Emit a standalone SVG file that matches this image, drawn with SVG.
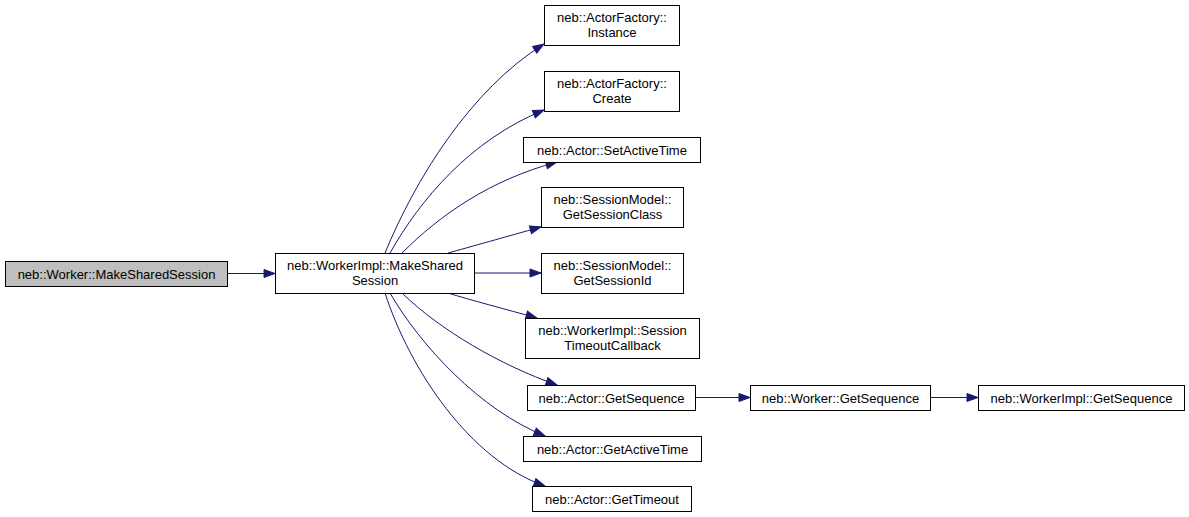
<svg xmlns="http://www.w3.org/2000/svg" width="1189" height="517" viewBox="0 0 1189 517">
<style>
.box{fill:#ffffff;stroke:#000000;stroke-width:1}
.root{fill:#bfbfbf;stroke:#000000;stroke-width:1}
.lbl{font-family:"Liberation Sans",Arial,Helvetica,sans-serif;font-size:13px;fill:#000000;text-anchor:middle}
.edge{fill:none;stroke:#191970;stroke-width:1}
</style>
<defs>
<marker id="arr" markerUnits="userSpaceOnUse" markerWidth="13" markerHeight="11" refX="12" refY="5" orient="auto">
<path d="M1,1 L12,5 L1,9 Z" fill="#191970" stroke="#191970" stroke-width="1"/>
</marker>
</defs>
<rect width="1189" height="517" fill="#ffffff"/>
<g id="connectors">
<path class="edge" marker-end="url(#arr)" d="M227,273.5 L275,273.5"/>
<path class="edge" marker-end="url(#arr)" d="M385,253 C415,180 470,90 544,44"/>
<path class="edge" marker-end="url(#arr)" d="M390,253 C420,200 470,140 544,110"/>
<path class="edge" marker-end="url(#arr)" d="M402,253 C440,215 490,180 557,162"/>
<path class="edge" marker-end="url(#arr)" d="M448,253 C470,247 505,237 541,227"/>
<path class="edge" marker-end="url(#arr)" d="M474,273 L541,273"/>
<path class="edge" marker-end="url(#arr)" d="M448,293 C470,300 505,309 537,318"/>
<path class="edge" marker-end="url(#arr)" d="M402,293 C440,330 500,365 557,385"/>
<path class="edge" marker-end="url(#arr)" d="M390,293 C420,345 480,410 545,436"/>
<path class="edge" marker-end="url(#arr)" d="M385,293 C410,370 470,460 545,486"/>
<path class="edge" marker-end="url(#arr)" d="M695,397.5 L750,397.5"/>
<path class="edge" marker-end="url(#arr)" d="M930,397.5 L978,397.5"/>
</g>
<g id="node1">
<rect class="root" x="5.5" y="261.5" width="222" height="25"/>
<text class="lbl" x="116.5" y="278.5">neb::Worker::MakeSharedSession</text>
</g>
<g id="node2">
<rect class="box" x="275.5" y="253.5" width="199" height="40"/>
<text class="lbl" x="375" y="269.5">neb::WorkerImpl::MakeShared</text>
<text class="lbl" x="375" y="284.5">Session</text>
</g>
<g id="node3">
<rect class="box" x="544.5" y="5.5" width="135" height="40"/>
<text class="lbl" x="612" y="21.5">neb::ActorFactory::</text>
<text class="lbl" x="612" y="36.5">Instance</text>
</g>
<g id="node4">
<rect class="box" x="544.5" y="71.5" width="135" height="40"/>
<text class="lbl" x="612" y="87.5">neb::ActorFactory::</text>
<text class="lbl" x="612" y="102.5">Create</text>
</g>
<g id="node5">
<rect class="box" x="523.5" y="137.5" width="177" height="25"/>
<text class="lbl" x="612" y="154.5">neb::Actor::SetActiveTime</text>
</g>
<g id="node6">
<rect class="box" x="541.5" y="187.5" width="142" height="40"/>
<text class="lbl" x="612.5" y="203.5">neb::SessionModel::</text>
<text class="lbl" x="612.5" y="218.5">GetSessionClass</text>
</g>
<g id="node7">
<rect class="box" x="541.5" y="253.5" width="142" height="40"/>
<text class="lbl" x="612.5" y="269.5">neb::SessionModel::</text>
<text class="lbl" x="612.5" y="284.5">GetSessionId</text>
</g>
<g id="node8">
<rect class="box" x="525.5" y="318.5" width="174" height="40"/>
<text class="lbl" x="612.5" y="334.5">neb::WorkerImpl::Session</text>
<text class="lbl" x="612.5" y="349.5">TimeoutCallback</text>
</g>
<g id="node9">
<rect class="box" x="527.5" y="385.5" width="168" height="25"/>
<text class="lbl" x="611.5" y="402.5">neb::Actor::GetSequence</text>
</g>
<g id="node10">
<rect class="box" x="523.5" y="436.5" width="178" height="25"/>
<text class="lbl" x="612.5" y="453.5">neb::Actor::GetActiveTime</text>
</g>
<g id="node11">
<rect class="box" x="532.5" y="486.5" width="159" height="25"/>
<text class="lbl" x="612" y="503.5">neb::Actor::GetTimeout</text>
</g>
<g id="node12">
<rect class="box" x="750.5" y="385.5" width="180" height="25"/>
<text class="lbl" x="840.5" y="402.5">neb::Worker::GetSequence</text>
</g>
<g id="node13">
<rect class="box" x="978.5" y="385.5" width="206" height="25"/>
<text class="lbl" x="1081.5" y="402.5">neb::WorkerImpl::GetSequence</text>
</g>
</svg>
